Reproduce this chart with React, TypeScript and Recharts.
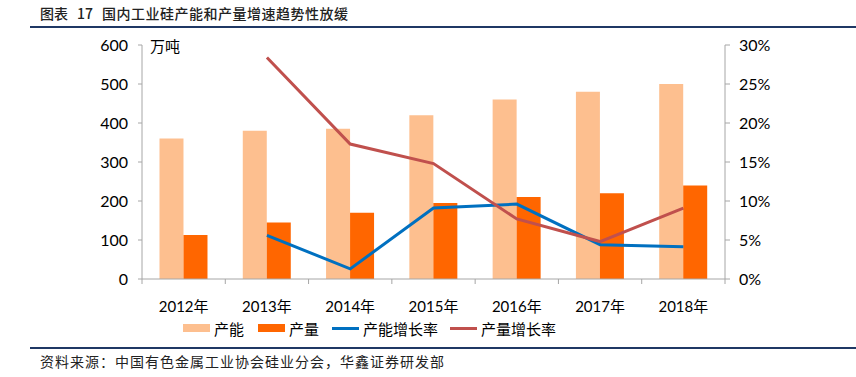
import { ComposedChart, Bar, Line, XAxis, YAxis } from 'recharts'

const years = ['2012年', '2013年', '2014年', '2015年', '2016年', '2017年', '2018年']
const capacity = [360, 380, 385, 420, 460, 480, 500]
const output = [113, 145, 170, 195, 210, 220, 240]
const capacityGrowth = [null, 5.6, 1.3, 9.1, 9.6, 4.4, 4.15]
const outputGrowth = [null, 28.4, 17.3, 14.8, 7.7, 4.8, 9.1]
const leftTicks = [0, 100, 200, 300, 400, 500, 600]
const rightTicks = [0, 5, 10, 15, 20, 25, 30]

const data = years.map((y, i) => ({
  year: y,
  capacity: capacity[i],
  output: output[i],
  capacityGrowth: capacityGrowth[i],
  outputGrowth: outputGrowth[i],
}))

const FONT = "Lato, 'Noto Sans CJK SC', sans-serif"
const CJK = "'Noto Sans CJK SC', sans-serif"
const AXIS = '#a6a6a6'

const XTick = (props: any) => {
  const { x, y, payload, index } = props
  const half = payload.offset || 41.6
  return (
    <g>
      <line x1={x - half} x2={x - half} y1={y} y2={y + 5} stroke={AXIS} />
      {index === years.length - 1 && (
        <line x1={x + half} x2={x + half} y1={y} y2={y + 5} stroke={AXIS} />
      )}
      <text x={x} y={y + 27} textAnchor="middle" dominantBaseline="central" fontSize={15} fill="#000" fontFamily={FONT}>
        {payload.value}
      </text>
    </g>
  )
}

const legendItems = [
  { label: '产能', color: '#FDBF8F', kind: 'bar', x: 183 },
  { label: '产量', color: '#FF6600', kind: 'bar', x: 258 },
  { label: '产能增长率', color: '#0070C0', kind: 'line', x: 332 },
  { label: '产量增长率', color: '#C0504D', kind: 'line', x: 450 },
]

const App = () => {
  return (
    <div style={{ position: 'absolute', left: 0, top: 0, width: 856, height: 377, background: '#fff', fontFamily: CJK }}>
      <div style={{ position: 'absolute', left: 40, top: 3, fontSize: 14, fontWeight: 500, color: '#222', whiteSpace: 'pre' }}>
        <span>图表</span>
        <span style={{ margin: '0 9px' }}>17</span>
        <span style={{ letterSpacing: 0.5 }}>国内工业硅产能和产量增速趋势性放缓</span>
      </div>
      <div style={{ position: 'absolute', left: 30, top: 26, width: 826, height: 2, background: '#1F3864' }} />

      <div style={{ position: 'absolute', left: 0, top: 0 }}>
        <ComposedChart
          width={856}
          height={320}
          data={data}
          margin={{ top: 45, right: 71, left: 82, bottom: 0 }}
          barGap={0}
          barCategoryGap="21%"
        >
          <XAxis
            dataKey="year"
            height={41}
            axisLine={{ stroke: AXIS }}
            tickLine={false}
            tickSize={0}
            tickMargin={0}
            tick={<XTick />}
            interval={0}
          />
          <YAxis
            yAxisId="left"
            width={60}
            domain={[0, 600]}
            ticks={leftTicks}
            axisLine={{ stroke: AXIS }}
            tickLine={{ stroke: AXIS }}
            tickSize={4}
            tickMargin={10}
            tick={{ fill: '#000', fontSize: 16, fontFamily: FONT }}
          />
          <YAxis
            yAxisId="right"
            orientation="right"
            width={60}
            domain={[0, 30]}
            ticks={rightTicks}
            axisLine={{ stroke: AXIS }}
            tickLine={{ stroke: AXIS }}
            tickSize={5}
            tickMargin={9}
            tickFormatter={(v: number) => `${v}%`}
            tick={{ fill: '#000', fontSize: 16, fontFamily: FONT, textAnchor: 'start' }}
          />
          <Bar yAxisId="left" dataKey="capacity" fill="#FDBF8F" isAnimationActive={false} />
          <Bar yAxisId="left" dataKey="output" fill="#FF6600" isAnimationActive={false} />
          <Line
            yAxisId="right"
            dataKey="capacityGrowth"
            stroke="#0070C0"
            strokeWidth={3}
            dot={false}
            type="linear"
            isAnimationActive={false}
          />
          <Line
            yAxisId="right"
            dataKey="outputGrowth"
            stroke="#C0504D"
            strokeWidth={3}
            dot={false}
            type="linear"
            isAnimationActive={false}
          />
        </ComposedChart>
      </div>

      <div style={{ position: 'absolute', left: 150, top: 35, fontSize: 15, color: '#000' }}>万吨</div>

      {legendItems.map((it) => (
        <div key={it.label} style={{ position: 'absolute', left: it.x, top: 318, height: 20, display: 'flex', alignItems: 'center' }}>
          <div
            style={{
              width: 27,
              height: it.kind === 'bar' ? 8 : 3,
              background: it.color,
              marginRight: 4,
            }}
          />
          <span style={{ fontSize: 15, color: '#000' }}>{it.label}</span>
        </div>
      ))}

      <div style={{ position: 'absolute', left: 30, top: 347, width: 826, height: 2, background: '#1F3864' }} />
      <div style={{ position: 'absolute', left: 40, top: 351, fontSize: 14, letterSpacing: 1, color: '#222' }}>
        资料来源：中国有色金属工业协会硅业分会，华鑫证券研发部
      </div>
    </div>
  )
}

export default App
